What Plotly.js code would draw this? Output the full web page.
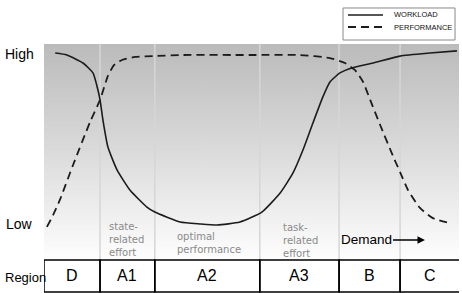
<!DOCTYPE html>
<html>
<head>
<meta charset="utf-8">
<script src="https://cdn.plot.ly/plotly-3.0.1.min.js"></script>
<style>html,body{margin:0;padding:0;background:#fff;}#chart{width:462px;height:293px;}</style>
</head>
<body>
<div id="chart"></div>
<script>
// ---- data (demand 0..100, level 0..100) ----
const workloadX = [2.7, 5.5, 9.4, 11.8, 13.0, 13.5, 14.2, 15.4, 17.6, 20.7, 24.8, 26.7, 32.8, 37.6, 41.7, 47.2, 52.5, 56.9, 60.0, 62.4, 64.8, 67.2, 68.9, 71.3, 74.2, 79.3, 85.8, 93.0, 99.5];
const workloadY = [95.8, 94.9, 91.2, 86.6, 78.7, 74.1, 64.8, 52.3, 41.7, 32.4, 24.5, 22.2, 17.6, 16.7, 16.2, 17.6, 22.2, 31.0, 40.3, 50.9, 63.4, 75.5, 82.4, 86.6, 88.9, 91.2, 94.4, 95.8, 96.8];
const perfX = [0.7, 2.2, 3.9, 7.0, 11.1, 13.5, 15.4, 16.9, 18.8, 21.9, 26.7, 32.8, 49.6, 61.7, 68.9, 72.5, 74.9, 76.9, 78.6, 81.0, 84.1, 85.8, 87.7, 90.6, 93.7, 97.8];
const perfY = [15.3, 20.8, 28.2, 44.0, 63.9, 74.1, 85.2, 90.3, 92.6, 94.0, 94.4, 94.9, 94.9, 94.9, 93.5, 91.2, 88.0, 82.4, 74.1, 62.5, 48.1, 40.7, 32.4, 24.1, 19.4, 17.1];
const regionBounds = [0, 13.5, 26.7, 52.0, 71.1, 85.8, 100.3];
const regionNames = ['D', 'A1', 'A2', 'A3', 'B', 'C'];
const seriesNames = ['WORKLOAD', 'PERFORMANCE'];
const levelLabels = ['High', 'Low'];
const notes = [
  {x: 15.4, y: 9.5, text: 'state-<br>related<br>effort'},
  {x: 31.8, y: 7.8, text: 'optimal<br>performance'},
  {x: 57.4, y: 9.2, text: 'task-<br>related<br>effort'}
];

// ---- styles ----
const ink = '#1c1c1c';
const solidLine = {color: ink, width: 1.6, shape: 'spline', smoothing: 0.5};
const dashLine = {color: ink, width: 1.8, dash: '8px,5px', shape: 'spline', smoothing: 0.5};
const font = 'Liberation Sans, Arial, sans-serif';

// gradient background image
const cv = document.createElement('canvas');
cv.width = 4; cv.height = 216;
const ctx = cv.getContext('2d');
const g = ctx.createLinearGradient(0, 0, 0, 216);
g.addColorStop(0, '#bbbbbb');
g.addColorStop(0.5, '#dbdbdb');
g.addColorStop(1, '#fefefe');
ctx.fillStyle = g; ctx.fillRect(0, 0, 4, 216);
const bgURL = cv.toDataURL('image/png');

const traces = [
  {x: workloadX, y: workloadY, type: 'scatter', mode: 'lines', name: seriesNames[0], line: solidLine, hoverinfo: 'skip'},
  {x: perfX, y: perfY, type: 'scatter', mode: 'lines', name: seriesNames[1], line: dashLine, hoverinfo: 'skip'}
];

const rowTop = 0, rowBot = -0.148;
const shapes = [];
const annotations = [];

// vertical region guide lines in plot
for (let i = 1; i < regionBounds.length - 1; i++) {
  shapes.push({type: 'line', xref: 'x', yref: 'paper', x0: regionBounds[i], x1: regionBounds[i], y0: 0, y1: 1,
    line: {color: '#d6d6d6', width: 1.5}, layer: 'below'});
}
// region row boxes
for (let i = 0; i < regionNames.length; i++) {
  shapes.push({type: 'rect', xref: 'x', yref: 'paper', x0: regionBounds[i], x1: regionBounds[i + 1], y0: rowBot, y1: rowTop,
    line: {color: '#000', width: 1.5}, fillcolor: 'rgba(0,0,0,0)'});
  annotations.push({xref: 'x', yref: 'paper', x: (regionBounds[i] + regionBounds[i + 1]) / 2, y: (rowTop + rowBot) / 2,
    text: regionNames[i], showarrow: false, font: {family: font, size: 16, color: '#000'}, xanchor: 'center', yanchor: 'middle'});
}
annotations.push({xref: 'paper', yref: 'paper', x: -0.1, y: (rowTop + rowBot) / 2 - 0.005, xanchor: 'left', yanchor: 'middle',
  text: 'Region', showarrow: false, font: {family: font, size: 13, color: '#000'}});
annotations.push({xref: 'paper', yref: 'y', x: -0.098, y: 95.3, xanchor: 'left', yanchor: 'middle',
  text: levelLabels[0], showarrow: false, font: {family: font, size: 14, color: '#000'}});
annotations.push({xref: 'paper', yref: 'y', x: -0.096, y: 16.5, xanchor: 'left', yanchor: 'middle',
  text: levelLabels[1], showarrow: false, font: {family: font, size: 14, color: '#000'}});

// region notes
notes.forEach(n => {
  annotations.push({xref: 'x', yref: 'y', x: n.x, y: n.y, xanchor: 'left', yanchor: 'middle', align: 'left',
    text: n.text, showarrow: false, borderpad: 0, font: {family: 'DejaVu Sans, sans-serif', size: 10, color: '#8a8a8a'}});
});

// Demand arrow
annotations.push({xref: 'x', yref: 'y', x: 91.8, y: 9.3, ax: -58, ay: 0, axref: 'pixel', ayref: 'pixel',
  text: 'Demand', showarrow: true, arrowhead: 2, arrowsize: 1, arrowwidth: 1.5, arrowcolor: '#000', standoff: 0,
  font: {family: font, size: 13.5, color: '#000'}, borderpad: 0});

// manual legend
const lgY = [1.1343, 1.0787];
shapes.push({type: 'rect', xref: 'paper', yref: 'paper', x0: 0.7205, x1: 0.9904, y0: 1.0185, y1: 1.1667,
  line: {color: '#888', width: 1}, fillcolor: '#fff'});
[solidLine, dashLine].forEach((ln, i) => {
  shapes.push({type: 'line', xref: 'paper', yref: 'paper', x0: 0.7325, x1: 0.8169, y0: lgY[i], y1: lgY[i],
    line: {color: ln.color, width: ln.width, dash: ln.dash || 'solid'}});
  annotations.push({xref: 'paper', yref: 'paper', x: 0.8386, y: lgY[i], xanchor: 'left', yanchor: 'middle',
    text: seriesNames[i], showarrow: false, font: {family: font, size: 7.5, color: '#111'}});
});

const layout = {
  width: 462, height: 293,
  margin: {l: 44, r: 3, t: 44, b: 33, pad: 0},
  paper_bgcolor: '#fff', plot_bgcolor: 'rgba(0,0,0,0)',
  showlegend: false,
  xaxis: {range: [0, 100], showgrid: false, zeroline: false, showticklabels: false, showline: false, ticks: '', fixedrange: true},
  yaxis: {range: [0, 100], showgrid: false, zeroline: false, showticklabels: false, showline: false, ticks: '', fixedrange: true},
  images: [{source: bgURL, xref: 'paper', yref: 'paper', x: 0, y: 1, sizex: 1, sizey: 1, sizing: 'stretch', layer: 'below', xanchor: 'left', yanchor: 'top'}],
  shapes: shapes,
  annotations: annotations
};

Plotly.newPlot('chart', traces, layout, {displayModeBar: false, staticPlot: true});
</script>
</body>
</html>
